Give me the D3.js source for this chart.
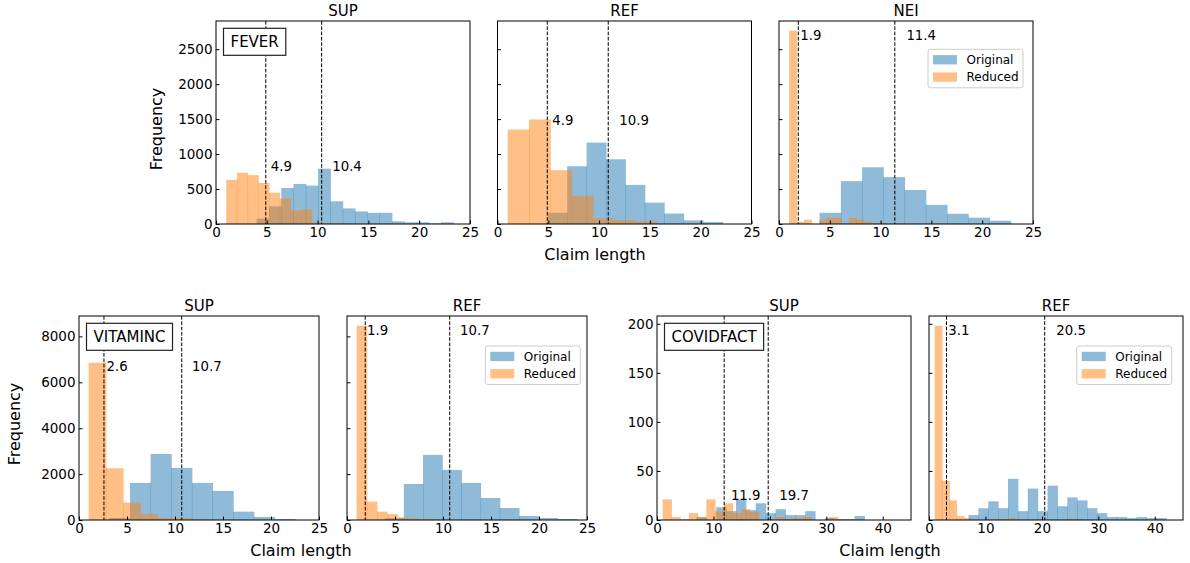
<!DOCTYPE html>
<html>
<head>
<meta charset="utf-8">
<script src="https://cdn.jsdelivr.net/npm/d3@7"></script>
<style>
  body { margin: 0; background: #fff; }
  svg { display: block; font-family: "DejaVu Sans", sans-serif; }
  .axis .domain { display: none; }
  .axis line { stroke: #000; stroke-width: 1; }
</style>
</head>
<body>
<svg id="chart" width="1190" height="563"></svg>
<script>
// Histogram data.
// *Range = [first bin edge, last bin edge], *Counts = claims per equal-width bin.
// Means = [reduced, original] claim length.
const feverSupOrigRange = [4, 23.36];
const feverSupOrigCounts = [78, 252, 515, 573, 549, 791, 325, 223, 180, 160, 160, 39, 24, 24, 10, 24];
const feverSupRedRange = [1, 12.6];
const feverSupRedCounts = [631, 733, 699, 587, 447, 364, 194, 209, 19, 10, 10];
const feverSupMeans = [4.9, 10.4];

const feverRefOrigRange = [4.95, 22.14];
const feverRefOrigCounts = [160, 826, 1164, 925, 559, 305, 150, 52, 28];
const feverRefRedRange = [1, 15.7];
const feverRefRedCounts = [1350, 1495, 770, 404, 80, 56, 38];
const feverRefMeans = [4.9, 10.9];

const feverNeiOrigRange = [4, 22.81];
const feverNeiOrigCounts = [160, 613, 811, 670, 486, 274, 146, 90, 47];
const feverNeiRedRange = [1, 10.55];
const feverNeiRedCounts = [2765, 33, 61, 0, 61, 90, 90, 0, 90, 61, 33, 0, 14];
const feverNeiMeans = [1.9, 11.4];

const vitSupOrigRange = [3.16, 22.51];
const vitSupOrigCounts = [87, 1615, 2880, 2269, 1615, 1265, 364, 131, 44];
const vitSupRedRange = [1, 13.6];
const vitSupRedCounts = [6851, 2255, 756, 262, 87, 87, 29];
const vitSupMeans = [2.6, 10.7];

const vitRefOrigRange = [3.92, 23.92];
const vitRefOrigCounts = [87, 1571, 2836, 2182, 1615, 960, 524, 175, 87, 44];
const vitRefRedRange = [1, 9.48];
const vitRefRedCounts = [8465, 800, 364, 262, 116, 73, 44, 29];
const vitRefMeans = [1.9, 10.7];

const covSupOrigRange = [7, 36.75];
const covSupOrigCounts = [3, 0, 13, 9, 21, 10, 17, 7, 11, 5, 5, 9, 0, 2, 1, 1, 4];
const covSupRedRange = [1, 32];
const covSupRedCounts = [21, 3, 1, 7, 3, 21, 9, 17, 7, 11, 8, 0, 1, 3, 1, 2, 3, 0, 0, 3];
const covSupMeans = [11.9, 19.7];

const covRefOrigRange = [7, 42];
const covRefOrigCounts = [5, 12, 19, 12, 42, 9, 32, 9, 35, 14, 23, 20, 12, 7, 3, 3, 2, 3, 2, 2];
const covRefRedRange = [1, 27];
const covRefRedCounts = [198, 40, 20, 4, 2, 0, 0, 0, 1, 1, 2, 0, 0, 0, 1, 0, 0, 0, 1, 1];
const covRefMeans = [3.1, 20.5];

const seriesLabels = ['Original', 'Reduced'];
const lengthTicks = [0, 5, 10, 15, 20, 25];
const covidLengthTicks = [0, 10, 20, 30, 40];
const feverFreqTicks = [0, 500, 1000, 1500, 2000, 2500];
const vitFreqTicks = [0, 2000, 4000, 6000, 8000];
const covFreqTicks = [0, 50, 100, 150, 200];

const BLUE = '#1f77b4';
const ORANGE = '#ff7f0e';

// Turn a [first, last] edge range and counts into bins
const toBins = (range, counts) => {
  const w = (range[1] - range[0]) / counts.length;
  return counts.map((n, i) => ({ x0: range[0] + i * w, x1: range[0] + (i + 1) * w, n }));
};

// Panel layout (pixels) and which data goes where
const panels = [
  { group: 'fever', title: 'SUP', tag: 'FEVER', x: 216, y: 21, w: 254, h: 203,
    xMax: 25, xTicks: lengthTicks, yTicks: feverFreqTicks, yLabels: true,
    orig: toBins(feverSupOrigRange, feverSupOrigCounts), red: toBins(feverSupRedRange, feverSupRedCounts), means: feverSupMeans },
  { group: 'fever', title: 'REF', x: 497.5, y: 21, w: 254, h: 203,
    xMax: 25, xTicks: lengthTicks, yTicks: feverFreqTicks,
    orig: toBins(feverRefOrigRange, feverRefOrigCounts), red: toBins(feverRefRedRange, feverRefRedCounts), means: feverRefMeans },
  { group: 'fever', title: 'NEI', x: 779, y: 21, w: 254, h: 203,
    xMax: 25, xTicks: lengthTicks, yTicks: feverFreqTicks, legend: { dx: 148, dy: 28.3 },
    orig: toBins(feverNeiOrigRange, feverNeiOrigCounts), red: toBins(feverNeiRedRange, feverNeiRedCounts), means: feverNeiMeans },
  { group: 'vit', title: 'SUP', tag: 'VITAMINC', x: 79, y: 316, w: 240, h: 204,
    xMax: 25, xTicks: lengthTicks, yTicks: vitFreqTicks, yLabels: true,
    orig: toBins(vitSupOrigRange, vitSupOrigCounts), red: toBins(vitSupRedRange, vitSupRedCounts), means: vitSupMeans },
  { group: 'vit', title: 'REF', x: 347, y: 316, w: 240, h: 204,
    xMax: 25, xTicks: lengthTicks, yTicks: vitFreqTicks, legend: { dx: 144.7, dy: 30 },
    orig: toBins(vitRefOrigRange, vitRefOrigCounts), red: toBins(vitRefRedRange, vitRefRedCounts), means: vitRefMeans },
  { group: 'cov', title: 'SUP', tag: 'COVIDFACT', x: 657, y: 316, w: 254, h: 204,
    xMax: 45, xTicks: covidLengthTicks, yTicks: covFreqTicks, yLabels: true,
    orig: toBins(covSupOrigRange, covSupOrigCounts), red: toBins(covSupRedRange, covSupRedCounts), means: covSupMeans },
  { group: 'cov', title: 'REF', x: 929, y: 316, w: 254, h: 204,
    xMax: 45, xTicks: covidLengthTicks, yTicks: covFreqTicks, legend: { dx: 149.3, dy: 30 },
    orig: toBins(covRefOrigRange, covRefOrigCounts), red: toBins(covRefRedRange, covRefRedCounts), means: covRefMeans },
];

// Shared y limits per dataset, matplotlib style (5% headroom)
const yMaxByGroup = {};
panels.forEach((p) => {
  const m = d3.max([...p.orig, ...p.red], (b) => b.n);
  yMaxByGroup[p.group] = Math.max(yMaxByGroup[p.group] || 0, m * 1.05);
});

const svg = d3.select('#chart');
svg.append('rect').attr('width', 1190).attr('height', 563).attr('fill', '#fff');

panels.forEach((p) => {
  const g = svg.append('g').attr('transform', `translate(${p.x},${p.y})`);
  const x = d3.scaleLinear().domain([0, p.xMax]).range([0, p.w]);
  const y = d3.scaleLinear().domain([0, yMaxByGroup[p.group]]).range([p.h, 0]);

  // Bars: original first, reduced drawn on top
  [[p.orig, BLUE], [p.red, ORANGE]].forEach(([bins, color]) => {
    g.append('g').selectAll('rect')
      .data(bins.filter((b) => b.n > 0))
      .join('rect')
      .attr('x', (b) => x(b.x0))
      .attr('width', (b) => x(b.x1) - x(b.x0) + 0.5)
      .attr('y', (b) => y(b.n))
      .attr('height', (b) => p.h - y(b.n))
      .attr('fill', color)
      .attr('fill-opacity', 0.5);
  });

  // Mean lines and their labels
  const top = d3.max([...p.orig, ...p.red], (b) => b.n);
  p.means.forEach((m) => {
    g.append('line')
      .attr('x1', x(m)).attr('x2', x(m))
      .attr('y1', 0).attr('y2', p.h)
      .attr('stroke', '#000')
      .attr('stroke-width', 1)
      .attr('stroke-dasharray', '3.7,1.6');
    g.append('text')
      .attr('x', x(m * 1.1))
      .attr('y', y(top * 0.95))
      .attr('font-size', 13.3)
      .attr('fill', '#000')
      .text(m.toFixed(1));
  });

  // Axes with inward ticks
  g.append('g').attr('class', 'axis')
    .attr('transform', `translate(0,${p.h})`)
    .call(d3.axisBottom(x).tickValues(p.xTicks).tickSizeInner(-3.5).tickSizeOuter(0).tickPadding(3.8))
    .attr('font-size', 13.5).attr('font-family', null);
  g.append('g').attr('class', 'axis')
    .call(d3.axisLeft(y).tickValues(p.yTicks).tickSizeInner(-3.5).tickSizeOuter(0).tickPadding(3.5)
      .tickFormat(p.yLabels ? d3.format('d') : () => ''))
    .attr('font-size', 13.5).attr('font-family', null);

  // Spines
  g.append('rect')
    .attr('width', p.w).attr('height', p.h)
    .attr('fill', 'none').attr('stroke', '#000').attr('stroke-width', 1);

  g.append('text')
    .attr('x', p.w / 2).attr('y', -5)
    .attr('text-anchor', 'middle')
    .attr('font-size', 15)
    .text(p.title);

  // Dataset tag in a box, upper left
  if (p.tag) {
    const tag = g.append('g').attr('transform', 'translate(7.5,7.3)');
    const box = tag.append('rect').attr('fill', '#fff').attr('stroke', '#222').attr('stroke-width', 1.2);
    const t = tag.append('text').attr('x', 7).attr('y', 18.4).attr('font-size', 15).text(p.tag);
    box.attr('width', t.node().getComputedTextLength() + 14).attr('height', 27);
  }

  if (p.legend) {
    const lg = g.append('g').attr('transform', `translate(${p.w - p.legend.dx + 43},${p.legend.dy})`);
    lg.append('rect')
      .attr('width', 95).attr('height', 38.5).attr('rx', 2.5)
      .attr('fill', '#fff').attr('fill-opacity', 0.8)
      .attr('stroke', '#ccc').attr('stroke-width', 1);
    seriesLabels.forEach((label, i) => {
      lg.append('rect')
        .attr('x', 5).attr('y', 5.8 + i * 17.3)
        .attr('width', 24).attr('height', 9.3)
        .attr('fill', i === 0 ? BLUE : ORANGE).attr('fill-opacity', 0.5);
      lg.append('text')
        .attr('x', 38.5).attr('y', 14.8 + i * 17.3)
        .attr('font-size', 12)
        .text(label);
    });
  }
});

// Figure-level axis labels
const supLabels = [
  { x: 595, y: 259.5, text: 'Claim length' },
  { x: 301, y: 556, text: 'Claim length' },
  { x: 890, y: 556, text: 'Claim length' },
];
supLabels.forEach((d) => {
  svg.append('text').attr('x', d.x).attr('y', d.y)
    .attr('text-anchor', 'middle').attr('font-size', 16).text(d.text);
});
[{ x: 162, y: 129 }, { x: 20, y: 424 }].forEach((d) => {
  svg.append('text')
    .attr('transform', `translate(${d.x},${d.y}) rotate(-90)`)
    .attr('text-anchor', 'middle').attr('font-size', 16).text('Frequency');
});
</script>
</body>
</html>
